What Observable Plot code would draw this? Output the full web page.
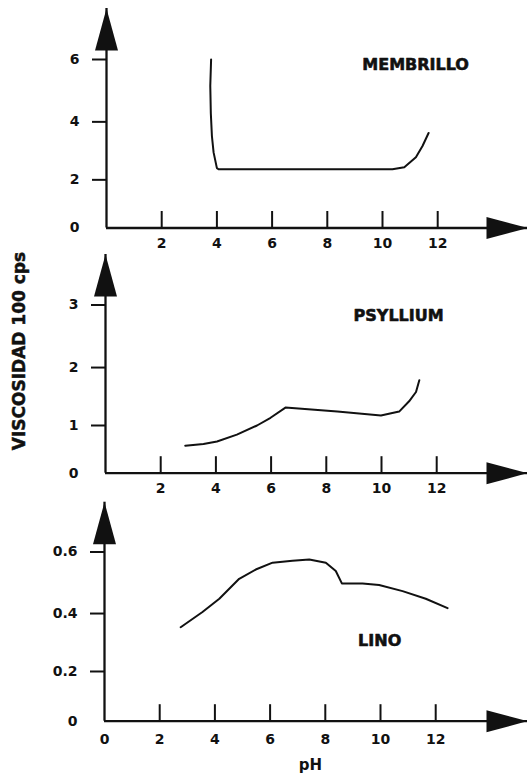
<!DOCTYPE html>
<html>
<head>
<meta charset="utf-8">
<script src="https://cdn.jsdelivr.net/npm/d3@7"></script>
<script src="https://cdn.jsdelivr.net/npm/@observablehq/plot@0.6"></script>
<style>
  body { margin: 0; background: #fff; }
  #chart { width: 527px; height: 779px; background: #fff; }
  #chart svg { display: block; }
</style>
</head>
<body>
<div id="chart"></div>
<script>
// ---- data ----
const membrilloPH   = [3.79, 3.76, 3.78, 3.82, 3.88, 4.00, 4.06, 10.36, 10.79, 11.21, 11.45, 11.67];
const membrilloVisc = [6.00, 5.17, 4.28, 3.52, 2.97, 2.42, 2.38, 2.38, 2.45, 2.80, 3.19, 3.63];

const psylliumPH   = [2.89, 3.55, 4.04, 4.76, 5.49, 5.98, 6.52, 8.40, 9.98, 10.64, 11.00, 11.25, 11.37];
const psylliumVisc = [0.62, 0.65, 0.70, 0.83, 1.00, 1.14, 1.32, 1.25, 1.18, 1.25, 1.43, 1.59, 1.79];

const linoPH   = [2.76, 3.55, 4.16, 4.88, 5.48, 6.09, 6.81, 7.42, 8.02, 8.38, 8.60, 9.35, 9.95, 10.80, 11.64, 12.43];
const linoVisc = [0.354, 0.405, 0.449, 0.514, 0.544, 0.566, 0.572, 0.576, 0.566, 0.539, 0.499, 0.499, 0.494, 0.474, 0.449, 0.418];

const xTicksTop    = [2, 4, 6, 8, 10, 12];
const xTicksBottom = [0, 2, 4, 6, 8, 10, 12];
const yTicksMembrillo = [0, 2, 4, 6];
const yTicksPsyllium  = [0, 1, 2, 3];
const yTicksLino      = [0, 0.2, 0.4, 0.6];

const nameMembrillo = "MEMBRILLO";
const namePsyllium  = "PSYLLIUM";
const nameLino      = "LINO";
const yTitle = "VISCOSIDAD 100 cps";
const xTitle = "pH";

// ---- layout ----
const W = 527;
const UNIT = 27.6; // px per pH unit
const INK = "#111";
const FONT = "'DejaVu Sans', 'Liberation Sans', sans-serif";

// custom symbols
const arrowUp = { draw(ctx) { ctx.moveTo(0, 0); ctx.lineTo(-11.5, 42); ctx.lineTo(11.5, 42); ctx.closePath(); } };
const arrowRight = { draw(ctx) { ctx.moveTo(0, 0); ctx.lineTo(-41, -11); ctx.lineTo(-41, 11); ctx.closePath(); } };
const tickUp = { draw(ctx) { ctx.moveTo(0, 0); ctx.lineTo(0, -17); } };

function panel(cfg) {
  const { height, ml, apexY, axisY, topY, yMax, exponent, yTicks, xTicks, ph, visc,
          name, nameX, nameY, xPad, extra = [] } = cfg;
  const xMax = (W - ml) / UNIT;
  const rows = ph.map((p, i) => ({ ph: p, visc: visc[i] }));
  const xTickMarks = xTicks.filter(d => d !== 0);
  return Plot.plot({
    width: W,
    height,
    marginLeft: ml,
    marginRight: 0,
    marginTop: apexY,
    marginBottom: height - axisY,
    style: { fontFamily: FONT, fontWeight: "bold", fontSize: "14px", background: "#fff", color: INK },
    x: { domain: [0, xMax] },
    y: { type: "pow", exponent, domain: [0, yMax], range: [axisY, topY] },
    marks: [
      Plot.ruleY([0], { stroke: INK, strokeWidth: 2.3 }),
      Plot.ruleX([0], { stroke: INK, strokeWidth: 2.3 }),
      Plot.dot(xTickMarks, { x: d => d, y: 0, symbol: tickUp, stroke: INK, fill: "none", strokeWidth: 2 }),
      Plot.axisY({ ticks: yTicks.filter(d => d !== 0), tickSize: 14, tickPadding: 13, tickFormat: d => String(d),
                   label: null, stroke: INK, strokeWidth: 2, fontSize: 14, fontWeight: "bold" }),
      Plot.axisY({ ticks: [0], tickSize: 0, tickPadding: 27, tickFormat: d => String(d),
                   label: null, fontSize: 14, fontWeight: "bold" }),
      Plot.axisX({ ticks: xTicks, tickSize: 0, tickPadding: xPad, tickFormat: d => String(d),
                   label: null, fontSize: 14, fontWeight: "bold" }),
      Plot.dot([0], { x: 0, frameAnchor: "top", symbol: arrowUp, fill: INK, stroke: "none" }),
      Plot.dot([0], { y: 0, frameAnchor: "right", symbol: arrowRight, fill: INK, stroke: "none" }),
      Plot.line(rows, { x: "ph", y: "visc", stroke: INK, strokeWidth: 2 }),
      Plot.text([name], { x: nameX, y: nameY, text: d => d, fontSize: 16, fontWeight: "bold",
                          fill: INK, stroke: INK, strokeWidth: 0.6 }),
      ...extra
    ]
  });
}

const chart = document.getElementById("chart");

chart.append(panel({
  height: 250, ml: 106, apexY: 8, axisY: 227.5, topY: 59, yMax: 6, exponent: 1.14,
  yTicks: yTicksMembrillo, xTicks: xTicksTop,
  ph: membrilloPH, visc: membrilloVisc,
  name: nameMembrillo, nameX: 11.2, nameY: 5.84, xPad: 10
}));

chart.append(panel({
  height: 250, ml: 105, apexY: 4, axisY: 222.7, topY: 54.5, yMax: 3, exponent: 1.147,
  yTicks: yTicksPsyllium, xTicks: xTicksTop,
  ph: psylliumPH, visc: psylliumVisc,
  name: namePsyllium, nameX: 10.62, nameY: 2.836, xPad: 10,
  extra: [
    Plot.text([yTitle], { x: 0, y: 2.27, dx: -86, rotate: -90, textAnchor: "middle", text: d => d,
                          fontSize: 17, fontWeight: "bold", fill: INK, stroke: INK, strokeWidth: 0.5 })
  ]
}));

chart.append(panel({
  height: 279, ml: 104, apexY: 1.7, axisY: 220.7, topY: 51.5, yMax: 0.6, exponent: 1.115,
  yTicks: yTicksLino, xTicks: xTicksBottom,
  ph: linoPH, visc: linoVisc,
  name: nameLino, nameX: 9.97, nameY: 0.309, xPad: 12.5,
  extra: [
    Plot.text([xTitle], { x: 7.46, frameAnchor: "bottom", dy: 49, text: d => d,
                          fontSize: 15, fontWeight: "bold", fill: INK })
  ]
}));
</script>
</body>
</html>
